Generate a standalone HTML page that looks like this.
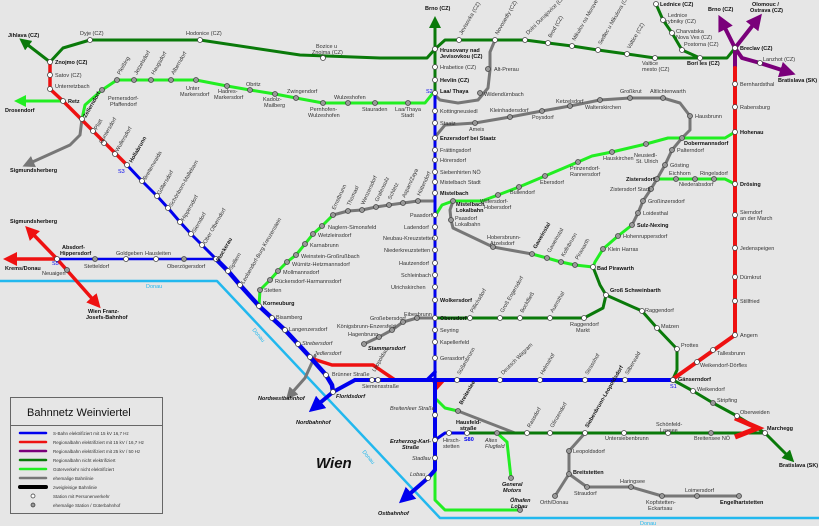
<!DOCTYPE html>
<html><head><meta charset="utf-8"><style>
html,body{margin:0;padding:0;background:#e6e6e6}
svg{display:block}
text{font-family:"Liberation Sans",sans-serif;font-size:5.5px;fill:#333}
.b{font-weight:bold;fill:#111}
.l{fill:none;stroke-linejoin:round;stroke-linecap:round}
</style></head><body>
<svg width="819" height="526" viewBox="0 0 819 526" xmlns="http://www.w3.org/2000/svg">
<defs>
<marker id="ar" markerWidth="4" markerHeight="4" refX="2" refY="2" orient="auto" markerUnits="strokeWidth"><path d="M0,0L4,2L0,4z" fill="context-stroke"/></marker>
</defs>
<rect width="819" height="526" fill="#e6e6e6"/>
<!-- Danube -->
<polyline class="l" points="0,281 217,281 440,518 819,518" stroke="#22b8ee" stroke-width="2.5"/>
<text x="146" y="288" fill="#22b8ee" style="fill:#22b8ee">Donau</text>
<text x="640" y="525" style="fill:#22b8ee">Donau</text>
<text x="252" y="330" style="fill:#22b8ee" transform="rotate(50 252 330)">Donau</text>
<text x="362" y="452" style="fill:#22b8ee" transform="rotate(50 362 452)">Donau</text>

<!-- grey lines -->
<g class="l" stroke="#777" stroke-width="3">
<polyline points="433,93 440,100 458,103 478,100 488,88 490,70 490,52 495,40"/>
<polyline points="435,137 445,125 475,123 510,117 542,111 570,106 600,100 630,98 663,98 680,103 690,116 690,130 682,138 672,150 665,165 657,179 651,189 643,201 638,213 632,225"/>
<polyline points="433,201 418,201 403,203 389,205 376,207 362,210 348,211 333,215"/>
<polyline points="453,201 450,210 451,220 453,228 493,247 532,254"/>
<polyline points="435,318 417,318 403,322 392,330 379,337 364,344"/>
<polyline points="458,411 515,433"/>
<polyline points="585,433 569,451 569,474 555,496"/>
<polyline points="569,474 587,487 631,487 662,496 697,496 739,496"/>
<polyline points="82,119 80,135 70,145 28,164" marker-end="url(#ar)"/>
<polyline points="315,356 305,378 290,395" marker-end="url(#ar)"/>
</g>
<!-- light green -->
<g class="l" stroke="#22ee22" stroke-width="3">
<polyline points="433,93 425,103 408,103 375,103 348,103 323,103 296,98 275,94 250,90 227,86 196,80 171,80 151,80 134,80 117,80 102,90 85,105 82,119"/>
<polyline points="735,184 725,179 714,179 695,179 676,179 657,179"/>
<polyline points="735,132 725,138 682,138 668,138 646,144 612,152 592,156 578,162 545,176 519,187 498,195 482,201 453,201 442,205 437,213"/>
<polyline points="632,225 618,236 603,249 595,262 593,267 575,265 561,262 547,258 532,254"/>
<polyline points="333,215 322,226 313,234 305,244 296,255 287,262 278,271 270,280 260,290 259,306"/>
<polyline points="437,400 445,408 458,411"/>
<polyline points="497,433 507,442 511,478"/>
<polyline points="435,470 435,500 445,510 520,510"/>
<polyline points="63,101 20,101" marker-end="url(#ar)"/>
</g>
<!-- dark green -->
<g class="l" stroke="#0a7a0a" stroke-width="3">
<polyline points="50,62 63,48 90,40 200,40 300,55 380,58 427,58 435,49 445,40 525,40 548,43 572,46 598,50 627,54 655,58 700,58 727,58 735,48"/>
<polyline points="656,4 663,20 672,33 682,50 700,58"/>
<polyline points="50,62 24,42" marker-end="url(#ar)"/>
<polyline points="435,90 435,22" marker-end="url(#ar)"/>
<polyline points="593,267 600,285 606,295 642,311 657,328 677,349 677,370 673,379"/>
<polyline points="606,295 603,308 584,318 550,318 520,318 500,318 470,318 435,318"/>
<polyline points="673,380 693,391 713,403 737,416 765,433 790,458" marker-end="url(#ar)"/>
<polyline points="765,433 711,433 668,433 624,433 585,433 550,433 527,433 467,433"/>
</g>
<!-- purple -->
<g class="l" stroke="#7a007a" stroke-width="4">
<polyline points="735,68 735,48"/>
<polyline points="735,48 722,22" marker-end="url(#ar)"/>
<polyline points="735,48 757,20" marker-end="url(#ar)"/>
<polyline points="735,48 742,58 760,63 788,72" marker-end="url(#ar)"/>
</g>
<!-- red -->
<g class="l" stroke="#ee1111" stroke-width="3.5">
<polyline points="50,62 50,89 63,101 127,165"/>
<polyline points="735,68 735,335 673,379" stroke-width="4"/>
<polyline points="310,358 332,365 373,365 395,380"/>
<polyline points="57,259 30,231" marker-end="url(#ar)"/>
<polyline points="57,259 96,303" marker-end="url(#ar)"/>
<polyline points="57,259 10,259" marker-end="url(#ar)"/>
<polyline points="735,418 758,428 735,437" stroke-width="5" stroke-linecap="butt" stroke-linejoin="miter"/>
</g>
<path d="M430,378L446,380L437,390z" fill="#ee1111"/>
<!-- blue -->
<g class="l" stroke="#0000ee" stroke-width="3.5">
<polyline points="435,93 435,380" stroke-width="3"/>
<polyline points="127,165 142,181 157,196 168,208 180,222 191,234 202,245 216,259" stroke-width="3"/>
<polyline points="57,259 216,259" stroke-width="2.5"/>
<polyline points="216,259 228,271 240,285 259,306 272,318 285,330 298,344 310,357 326,375 332,385 333,392" stroke-width="4.5"/>
<polyline points="355,380 673,380" stroke-width="4"/>
<polyline points="355,380 333,392 315,407" stroke-width="4" marker-end="url(#ar)"/>
<polyline points="435,380 435,470 428,478 405,498" stroke-width="4" marker-end="url(#ar)"/>
<polyline points="435,380 427,380 435,372"/>
<polyline points="435,440 445,433 467,433" stroke-width="3"/>
</g>
<!-- stations -->
<g fill="#fff" stroke="#444" stroke-width="0.8">
<circle cx="435" cy="49" r="2.5"/><circle cx="435" cy="67" r="2.5"/><circle cx="435" cy="80" r="2.5"/><circle cx="435" cy="93" r="2.5"/>
<circle cx="435" cy="111" r="2.5"/><circle cx="435" cy="123" r="2.5"/><circle cx="435" cy="138" r="2.5"/><circle cx="435" cy="150" r="2.5"/><circle cx="435" cy="160" r="2.5"/><circle cx="435" cy="172" r="2.5"/><circle cx="435" cy="182" r="2.5"/><circle cx="435" cy="193" r="2.5"/><circle cx="435" cy="215" r="2.5"/><circle cx="435" cy="227" r="2.5"/><circle cx="435" cy="238" r="2.5"/><circle cx="435" cy="250" r="2.5"/><circle cx="435" cy="263" r="2.5"/><circle cx="435" cy="275" r="2.5"/><circle cx="435" cy="287" r="2.5"/><circle cx="435" cy="300" r="2.5"/><circle cx="435" cy="318" r="2.5"/><circle cx="435" cy="330" r="2.5"/><circle cx="435" cy="342" r="2.5"/><circle cx="435" cy="358" r="2.5"/>
<circle cx="435" cy="415" r="2.5"/><circle cx="435" cy="440" r="2.5"/><circle cx="435" cy="458" r="2.5"/><circle cx="428" cy="478" r="2.5"/>
<circle cx="372" cy="380" r="2.5"/><circle cx="378" cy="380" r="0"/><circle cx="457" cy="380" r="2.5"/><circle cx="500" cy="380" r="2.5"/><circle cx="540" cy="380" r="2.5"/><circle cx="585" cy="380" r="2.5"/><circle cx="625" cy="380" r="2.5"/><circle cx="673" cy="380" r="2.5"/><circle cx="378" cy="380" r="2.5"/><circle cx="333" cy="392" r="2.5"/><circle cx="326" cy="375" r="2.5"/>
<circle cx="735" cy="48" r="2.5"/><circle cx="735" cy="84" r="2.5"/><circle cx="735" cy="107" r="2.5"/><circle cx="735" cy="132" r="2.5"/><circle cx="735" cy="184" r="2.5"/><circle cx="735" cy="215" r="2.5"/><circle cx="735" cy="248" r="2.5"/><circle cx="735" cy="277" r="2.5"/><circle cx="735" cy="301" r="2.5"/><circle cx="735" cy="335" r="2.5"/><circle cx="713" cy="350" r="2.5"/><circle cx="697" cy="362" r="2.5"/><circle cx="760" cy="63" r="2.5"/>
<circle cx="700" cy="58" r="2.5"/><circle cx="655" cy="58" r="2.5"/><circle cx="627" cy="54" r="2.5"/><circle cx="598" cy="50" r="2.5"/><circle cx="572" cy="46" r="2.5"/><circle cx="548" cy="43" r="2.5"/><circle cx="525" cy="40" r="2.5"/><circle cx="495" cy="40" r="2.5"/><circle cx="459" cy="40" r="2.5"/><circle cx="323" cy="58" r="2.5"/><circle cx="200" cy="40" r="2.5"/><circle cx="90" cy="40" r="2.5"/><circle cx="656" cy="4" r="2.5"/><circle cx="663" cy="20" r="2.5"/><circle cx="672" cy="33" r="2.5"/><circle cx="682" cy="50" r="2.5"/>
<circle cx="50" cy="62" r="2.5"/><circle cx="50" cy="75" r="2.5"/><circle cx="50" cy="89" r="2.5"/><circle cx="63" cy="101" r="2.5"/><circle cx="82" cy="119" r="2.5"/><circle cx="93" cy="131" r="2.5"/><circle cx="104" cy="143" r="2.5"/><circle cx="115" cy="154" r="2.5"/><circle cx="127" cy="165" r="2.5"/><circle cx="142" cy="181" r="2.5"/><circle cx="157" cy="196" r="2.5"/><circle cx="168" cy="208" r="2.5"/><circle cx="180" cy="222" r="2.5"/><circle cx="191" cy="234" r="2.5"/><circle cx="202" cy="245" r="2.5"/><circle cx="216" cy="259" r="2.5"/><circle cx="228" cy="271" r="2.5"/><circle cx="240" cy="285" r="2.5"/><circle cx="259" cy="306" r="2.5"/><circle cx="272" cy="318" r="2.5"/><circle cx="285" cy="330" r="2.5"/><circle cx="298" cy="344" r="2.5"/><circle cx="310" cy="357" r="2.5"/>
<circle cx="57" cy="259" r="2.5"/><circle cx="126" cy="259" r="2.5"/><circle cx="156" cy="259" r="2.5"/>
<circle cx="673" cy="380" r="2.5"/><circle cx="693" cy="391" r="2.5"/><circle cx="737" cy="416" r="2.5"/><circle cx="765" cy="433" r="2.5"/><circle cx="668" cy="433" r="2.5"/><circle cx="624" cy="433" r="2.5"/><circle cx="585" cy="433" r="2.5"/><circle cx="550" cy="433" r="2.5"/><circle cx="527" cy="433" r="2.5"/><circle cx="449" cy="433" r="2.5"/><circle cx="467" cy="433" r="2.5"/>
<circle cx="593" cy="267" r="2.5"/><circle cx="606" cy="295" r="2.5"/><circle cx="642" cy="311" r="2.5"/><circle cx="657" cy="328" r="2.5"/><circle cx="677" cy="349" r="2.5"/><circle cx="584" cy="318" r="2.5"/><circle cx="550" cy="318" r="2.5"/><circle cx="520" cy="318" r="2.5"/><circle cx="500" cy="318" r="2.5"/><circle cx="470" cy="318" r="2.5"/>
</g>
<g fill="#999" stroke="#444" stroke-width="0.8">
<circle cx="480" cy="93" r="2.5"/><circle cx="488" cy="69" r="2.5"/><circle cx="475" cy="123" r="2.5"/><circle cx="510" cy="117" r="2.5"/><circle cx="542" cy="111" r="2.5"/><circle cx="570" cy="106" r="2.5"/><circle cx="600" cy="100" r="2.5"/><circle cx="630" cy="98" r="2.5"/><circle cx="663" cy="98" r="2.5"/><circle cx="690" cy="116" r="2.5"/><circle cx="682" cy="138" r="2.5"/><circle cx="672" cy="150" r="2.5"/><circle cx="665" cy="165" r="2.5"/><circle cx="657" cy="179" r="2.5"/><circle cx="651" cy="189" r="2.5"/><circle cx="643" cy="201" r="2.5"/><circle cx="638" cy="213" r="2.5"/><circle cx="632" cy="225" r="2.5"/>
<circle cx="676" cy="179" r="2.5"/><circle cx="695" cy="179" r="2.5"/><circle cx="714" cy="179" r="2.5"/><circle cx="646" cy="144" r="2.5"/><circle cx="612" cy="152" r="2.5"/><circle cx="578" cy="162" r="2.5"/><circle cx="545" cy="176" r="2.5"/><circle cx="519" cy="187" r="2.5"/><circle cx="498" cy="195" r="2.5"/><circle cx="453" cy="201" r="2.5"/><circle cx="451" cy="220" r="2.5"/><circle cx="493" cy="247" r="2.5"/><circle cx="532" cy="254" r="2.5"/><circle cx="547" cy="258" r="2.5"/><circle cx="561" cy="262" r="2.5"/><circle cx="575" cy="265" r="2.5"/><circle cx="603" cy="249" r="2.5"/><circle cx="618" cy="236" r="2.5"/>
<circle cx="418" cy="201" r="2.5"/><circle cx="403" cy="203" r="2.5"/><circle cx="389" cy="205" r="2.5"/><circle cx="376" cy="207" r="2.5"/><circle cx="362" cy="210" r="2.5"/><circle cx="348" cy="211" r="2.5"/><circle cx="333" cy="215" r="2.5"/><circle cx="322" cy="226" r="2.5"/><circle cx="313" cy="234" r="2.5"/><circle cx="305" cy="244" r="2.5"/><circle cx="296" cy="255" r="2.5"/><circle cx="287" cy="262" r="2.5"/><circle cx="278" cy="271" r="2.5"/><circle cx="270" cy="280" r="2.5"/><circle cx="260" cy="290" r="2.5"/>
<circle cx="417" cy="318" r="2.5"/><circle cx="403" cy="322" r="2.5"/><circle cx="392" cy="330" r="2.5"/><circle cx="379" cy="337" r="2.5"/><circle cx="364" cy="344" r="2.5"/>
<circle cx="408" cy="103" r="2.5"/><circle cx="375" cy="103" r="2.5"/><circle cx="348" cy="103" r="2.5"/><circle cx="323" cy="103" r="2.5"/><circle cx="296" cy="98" r="2.5"/><circle cx="275" cy="94" r="2.5"/><circle cx="250" cy="90" r="2.5"/><circle cx="227" cy="86" r="2.5"/><circle cx="196" cy="80" r="2.5"/><circle cx="171" cy="80" r="2.5"/><circle cx="151" cy="80" r="2.5"/><circle cx="134" cy="80" r="2.5"/><circle cx="117" cy="80" r="2.5"/><circle cx="102" cy="90" r="2.5"/>
<circle cx="95" cy="259" r="2.5"/><circle cx="184" cy="259" r="2.5"/><circle cx="67" cy="270" r="2.5"/>
<circle cx="458" cy="411" r="2.5"/><circle cx="497" cy="433" r="2.5"/><circle cx="511" cy="478" r="2.5"/><circle cx="520" cy="510" r="2.5"/><circle cx="713" cy="403" r="2.5"/><circle cx="711" cy="433" r="2.5"/>
<circle cx="569" cy="451" r="2.5"/><circle cx="569" cy="474" r="2.5"/><circle cx="555" cy="496" r="2.5"/><circle cx="587" cy="487" r="2.5"/><circle cx="631" cy="487" r="2.5"/><circle cx="662" cy="496" r="2.5"/><circle cx="697" cy="496" r="2.5"/><circle cx="739" cy="496" r="2.5"/>
</g>
<!-- labels -->
<text x="425" y="10" class="b">Brno (CZ)</text>
<text x="440" y="52" class="b">Hrusovany nad</text><text x="440" y="58" class="b">Jevisovkou (CZ)</text>
<text x="440" y="69">Hrabetice (CZ)</text><text x="440" y="82" class="b">Hevlín (CZ)</text>
<text x="440" y="93" class="b">Laa/ Thaya</text><text x="426" y="93" style="fill:#00e">S2</text>
<text x="440" y="113">Kottingneusiedl</text><text x="440" y="125">Staatz</text><text x="440" y="140" class="b">Enzersdorf bei Staatz</text>
<text x="440" y="152">Frättingsdorf</text><text x="440" y="162">Hörersdorf</text><text x="440" y="174">Siebenhirten NÖ</text><text x="440" y="184">Mistelbach Stadt</text><text x="440" y="195" class="b">Mistelbach</text>
<text x="456" y="206" class="b">Mistelbach</text><text x="456" y="212" class="b">Lokalbahn</text>
<text x="410" y="217">Paasdorf</text><text x="404" y="229">Ladendorf</text><text x="383" y="240">Neubau-Kreuzstetten</text><text x="384" y="252">Niederkreuzstetten</text><text x="399" y="265">Hautzendorf</text><text x="401" y="277">Schleinbach</text><text x="391" y="289">Ulrichskirchen</text>
<text x="440" y="302" class="b">Wolkersdorf</text><text x="440" y="320" class="b">Obersdorf</text><text x="440" y="332">Seyring</text><text x="440" y="344">Kapellerfeld</text><text x="440" y="360">Gerasdorf</text>
<text x="404" y="316">Eibesbrunn</text><text x="370" y="320">Großebersdorf</text><text x="337" y="328">Königsbrunn-Enzersfeld</text><text x="348" y="336">Hagenbrunn</text><text x="368" y="350" class="b" style="font-style:italic">Stammersdorf</text>
<text x="484" y="96">Wildendürnbach</text><text x="494" y="71">Alt-Prerau</text>
<text x="469" y="131">Ameis</text><text x="490" y="112">Kleinhadersdorf</text><text x="532" y="119">Poysdorf</text><text x="556" y="103">Ketzelsdorf</text><text x="585" y="109">Walterskirchen</text><text x="620" y="93">Großkrut</text><text x="650" y="93">Altlichtenwarth</text><text x="695" y="118">Hausbrunn</text>
<text x="684" y="145" class="b">Dobermannsdorf</text><text x="677" y="152">Palterndorf</text><text x="670" y="167">Gösting</text><text x="626" y="181" class="b">Zistersdorf</text><text x="610" y="191">Zistersdorf Stadt</text><text x="648" y="203">Großinzersdorf</text><text x="643" y="215">Loidesthal</text><text x="637" y="227" class="b">Sulz-Nexing</text><text x="623" y="238">Hohenruppersdorf</text><text x="608" y="251">Klein Harras</text>
<text x="669" y="175">Eichhorn</text><text x="679" y="186">Niederabsdorf</text><text x="700" y="175">Ringelsdorf</text>
<text x="634" y="157">Neusiedl-</text><text x="636" y="163">St. Ulrich</text><text x="603" y="160">Hauskirchen</text><text x="570" y="170">Prinzendorf-</text><text x="570" y="176">Rannersdorf</text><text x="540" y="184">Ebersdorf</text><text x="510" y="194">Bullendorf</text><text x="480" y="203">Wilfersdorf-</text><text x="484" y="209">Hobersdorf</text>
<text x="455" y="220">Paasdorf</text><text x="455" y="226">Lokalbahn</text><text x="487" y="239">Hobersbrunn-</text><text x="490" y="245">Atzelsdorf</text>
<text x="597" y="270" class="b">Bad Pirawarth</text><text x="610" y="292" class="b">Groß Schweinbarth</text><text x="645" y="312">Raggendorf</text><text x="661" y="328">Matzen</text><text x="681" y="347">Prottes</text>
<text x="570" y="326">Raggendorf</text><text x="576" y="332">Markt</text>
<text x="740" y="50" class="b">Breclav (CZ)</text><text x="740" y="86">Bernhardsthal</text><text x="740" y="109">Rabensburg</text><text x="740" y="134" class="b">Hohenau</text><text x="740" y="186" class="b">Drösing</text><text x="740" y="214">Sierndorf</text><text x="740" y="220">an der March</text><text x="740" y="250">Jedenspeigen</text><text x="740" y="279">Dürnkrut</text><text x="740" y="303">Stillfried</text><text x="740" y="337">Angern</text>
<text x="717" y="355">Tallesbrunn</text><text x="700" y="367">Weikendorf-Dörfles</text>
<text x="678" y="381" class="b">Gänserndorf</text><text x="670" y="388" style="fill:#00e">S1</text>
<text x="697" y="391">Weikendorf</text><text x="717" y="402">Stripfing</text><text x="740" y="414">Oberweiden</text><text x="767" y="430" class="b">Marchegg</text><text x="779" y="467" class="b">Bratislava (SK)</text>
<text x="778" y="82" class="b">Bratislava (SK)</text><text x="763" y="61">Lanzhot (CZ)</text><text x="708" y="11" class="b">Brno (CZ)</text><text x="752" y="6" class="b">Olomouc /</text><text x="750" y="12" class="b">Ostrava (CZ)</text>
<text x="660" y="6" class="b">Lednice (CZ)</text><text x="668" y="17">Lednice</text><text x="666" y="23">rybniky (CZ)</text><text x="676" y="33">Charvatska</text><text x="676" y="39">Nova Ves (CZ)</text><text x="684" y="46">Postorna (CZ)</text><text x="687" y="65" class="b">Bori les (CZ)</text><text x="642" y="65">Valtice</text><text x="642" y="71">mesto (CZ)</text>
<text x="316" y="48">Bozice u</text><text x="312" y="54">Znojma (CZ)</text><text x="186" y="35">Hodonice (CZ)</text><text x="80" y="35">Dyje (CZ)</text>
<text x="8" y="37" class="b">Jihlava (CZ)</text><text x="55" y="64" class="b">Znojmo (CZ)</text><text x="55" y="77">Satov (CZ)</text><text x="55" y="88">Unterretzbach</text><text x="68" y="103" class="b">Retz</text><text x="5" y="112" class="b">Drosendorf</text><text x="10" y="172" class="b">Sigmundsherberg</text>
<text x="108" y="100">Pernersdorf-</text><text x="110" y="106">Pfaffendorf</text><text x="186" y="90">Unter</text><text x="180" y="96">Markersdorf</text><text x="218" y="93">Hadres-</text><text x="214" y="99">Markersdorf</text><text x="246" y="86">Obritz</text><text x="263" y="101">Kadolz-</text><text x="264" y="107">Mailberg</text><text x="287" y="93">Zwingendorf</text><text x="310" y="111">Pernhofen-</text><text x="308" y="117">Wulzeshofen</text><text x="334" y="99">Wulzeshofen</text><text x="362" y="111">Stauraden</text><text x="395" y="111">Laa/Thaya</text><text x="401" y="117">Stadt</text>
<text x="102" y="144" transform="rotate(-60 102 144)">Guntersdorf</text><text x="132" y="163" class="b" transform="rotate(-60 132 163)">Hollabrunn</text><text x="118" y="173" style="fill:#00e">S3</text>
<text x="10" y="223" class="b">Sigmundsherberg</text><text x="62" y="249" class="b">Absdorf-</text><text x="60" y="255" class="b">Hippersdorf</text><text x="52" y="265" style="fill:#00e">S5</text><text x="42" y="275">Neuaigen</text><text x="5" y="270" class="b">Krems/Donau</text><text x="88" y="313" class="b">Wien Franz-</text><text x="86" y="319" class="b">Josefs-Bahnhof</text>
<text x="84" y="268">Stetteldorf</text><text x="116" y="255">Goldgeben</text><text x="145" y="255">Hausleiten</text><text x="167" y="268">Oberzögersdorf</text>
<text x="219" y="262" class="b" transform="rotate(-60 219 262)">Stockerau</text>
<text x="263" y="305" class="b">Korneuburg</text><text x="264" y="292">Stetten</text><text x="276" y="319">Bisamberg</text><text x="289" y="331">Langenzersdorf</text><text x="302" y="345" style="font-style:italic">Strebersdorf</text><text x="314" y="355" style="font-style:italic">Jedlersdorf</text>
<text x="332" y="376">Brünner Straße</text><text x="336" y="398" class="b" style="font-style:italic">Floridsdorf</text><text x="296" y="424" class="b" style="font-style:italic">Nordbahnhof</text><text x="258" y="400" class="b" style="font-style:italic">Nordwestbahnhof</text>
<text x="362" y="388">Siemensstraße</text>
<text x="328" y="229">Naglern-Simonsfeld</text><text x="318" y="237">Wetzleinsdorf</text><text x="310" y="247">Karnabrunn</text><text x="301" y="258">Weinstein-Großrußbach</text><text x="292" y="266">Würnitz-Hetzmannsdorf</text><text x="283" y="274">Mollmannsdorf</text><text x="275" y="283">Rückersdorf-Harmannsdorf</text>
<text x="390" y="410" style="font-style:italic">Breitenleer Straße</text><text x="390" y="443" class="b" style="font-style:italic">Erzherzog-Karl-</text><text x="402" y="449" class="b" style="font-style:italic">Straße</text><text x="412" y="460" style="font-style:italic">Stadlau</text><text x="410" y="476" style="font-style:italic">Lobau</text><text x="378" y="515" class="b" style="font-style:italic">Ostbahnhof</text>
<text x="456" y="424" class="b">Hausfeld-</text><text x="460" y="430" class="b">straße</text><text x="464" y="441" style="fill:#00e;font-weight:bold">S80</text><text x="443" y="442">Hirsch-</text><text x="443" y="448">stetten</text><text x="485" y="442" style="font-style:italic">Altes</text><text x="485" y="448" style="font-style:italic">Flugfeld</text>
<text x="502" y="486" class="b" style="font-style:italic">General</text><text x="503" y="492" class="b" style="font-style:italic">Motors</text><text x="510" y="502" class="b" style="font-style:italic">Ölhafen</text><text x="511" y="508" class="b" style="font-style:italic">Lobau</text>
<text x="316" y="468" style="font-size:15px;font-weight:bold;font-style:italic;fill:#111">Wien</text>
<text x="605" y="440">Untersiebenbrunn</text><text x="656" y="426">Schönfeld-</text><text x="660" y="432">Lassee</text><text x="694" y="440">Breitensee NÖ</text>
<text x="573" y="453">Leopoldsdorf</text><text x="573" y="474" class="b">Breitstetten</text><text x="540" y="504">Orth/Donau</text><text x="574" y="495">Straudorf</text><text x="620" y="483">Haringsee</text><text x="646" y="504">Kopfstetten-</text><text x="648" y="510">Eckartsau</text><text x="685" y="492">Loimersdorf</text><text x="720" y="504" class="b">Engelhartstetten</text>
<g>
<text x="375" y="372" transform="rotate(-60 375 372)">Leopoldau</text><text x="460" y="375" transform="rotate(-60 460 375)">Süßenbrunn</text><text x="503" y="375" transform="rotate(-45 503 375)">Deutsch Wagram</text><text x="543" y="375" transform="rotate(-60 543 375)">Helmahof</text><text x="588" y="375" transform="rotate(-60 588 375)">Strasshof</text><text x="628" y="375" transform="rotate(-60 628 375)">Silberwald</text>
<text x="473" y="313" transform="rotate(-60 473 313)">Pillichsdorf</text><text x="503" y="313" transform="rotate(-60 503 313)">Groß Engersdorf</text><text x="523" y="313" transform="rotate(-60 523 313)">Bockfließ</text><text x="553" y="313" transform="rotate(-60 553 313)">Auersthal</text>
<text x="462" y="405" class="b" transform="rotate(-60 462 405)">Breitenlee</text><text x="530" y="428" transform="rotate(-60 530 428)">Raasdorf</text><text x="553" y="428" transform="rotate(-60 553 428)">Glinzendorf</text><text x="588" y="428" class="b" transform="rotate(-60 588 428)">Siebenbrunn-Leopoldsdorf</text>
<text x="536" y="249" class="b" transform="rotate(-60 536 249)">Gaweinstal</text><text x="550" y="253" transform="rotate(-60 550 253)">Gaweinstal</text><text x="564" y="257" transform="rotate(-60 564 257)">Kollnbrunn</text><text x="578" y="260" transform="rotate(-60 578 260)">Pirawarth</text>
<text x="335" y="210" transform="rotate(-65 335 210)">Ernstbrunn</text><text x="350" y="206" transform="rotate(-65 350 206)">Thomasl</text><text x="364" y="205" transform="rotate(-65 364 205)">Wenzersdorf</text><text x="378" y="202" transform="rotate(-65 378 202)">Grafensulz</text><text x="391" y="200" transform="rotate(-65 391 200)">Schletz</text><text x="405" y="198" transform="rotate(-65 405 198)">Asparn/Zaya</text><text x="420" y="196" transform="rotate(-65 420 196)">Hüttendorf</text>
<text x="462" y="35" transform="rotate(-60 462 35)">Jevisovka (CZ)</text><text x="498" y="35" transform="rotate(-60 498 35)">Novosedly (CZ)</text><text x="528" y="35" transform="rotate(-45 528 35)">Dolni Dunajovice (CZ)</text><text x="551" y="38" transform="rotate(-60 551 38)">Brod (CZ)</text><text x="575" y="41" transform="rotate(-60 575 41)">Mikulov na Morave (CZ)</text><text x="601" y="45" transform="rotate(-60 601 45)">Sedlec u Mikulova (CZ)</text><text x="630" y="49" transform="rotate(-60 630 49)">Valtice (CZ)</text>
<text x="120" y="75" transform="rotate(-60 120 75)">Pleißing</text><text x="137" y="75" transform="rotate(-60 137 75)">Jetzelsdorf</text><text x="154" y="75" transform="rotate(-60 154 75)">Haugsdorf</text><text x="174" y="75" transform="rotate(-60 174 75)">Alberndorf</text>
<text x="86" y="118" class="b" transform="rotate(-60 86 118)">Zellerndorf</text><text x="97" y="130" transform="rotate(-60 97 130)">Platt</text><text x="118" y="152" transform="rotate(-60 118 152)">Wullersdorf</text>
<text x="146" y="180" transform="rotate(-60 146 180)">Breitenwaida</text><text x="160" y="195" transform="rotate(-60 160 195)">Göllersdorf</text><text x="172" y="207" transform="rotate(-60 172 207)">Schönborn-Mallebarn</text><text x="184" y="221" transform="rotate(-60 184 221)">Hippersdorf</text><text x="195" y="233" transform="rotate(-60 195 233)">Sierndorf</text><text x="206" y="244" transform="rotate(-60 206 244)">Ober Olberndorf</text>
<text x="232" y="270" transform="rotate(-60 232 270)">Spillern</text><text x="244" y="284" transform="rotate(-60 244 284)">Leobendorf-Burg Kreuzenstein</text>
</g>
<!-- legend -->
<rect x="10.5" y="397.5" width="152" height="116" fill="#e6e6e6" stroke="#666"/>
<line x1="10.5" y1="425.5" x2="162.5" y2="425.5" stroke="#666"/>
<text x="27" y="416" style="font-size:11px;fill:#111">Bahnnetz Weinviertel</text>
<g stroke-width="2.5" stroke-linecap="round">
<line x1="20" y1="433" x2="46" y2="433" stroke="#0000ee"/><line x1="20" y1="442" x2="46" y2="442" stroke="#ee1111"/><line x1="20" y1="451" x2="46" y2="451" stroke="#7a007a"/><line x1="20" y1="460" x2="46" y2="460" stroke="#0a7a0a"/><line x1="20" y1="469" x2="46" y2="469" stroke="#22ee22"/><line x1="20" y1="478" x2="46" y2="478" stroke="#777"/><line x1="20" y1="487" x2="46" y2="487" stroke="#000" stroke-width="4"/>
</g>
<circle cx="33" cy="496" r="2" fill="#fff" stroke="#333" stroke-width="0.7"/><circle cx="33" cy="505" r="2" fill="#999" stroke="#333" stroke-width="0.7"/>
<g style="font-size:4.5px"><text x="53" y="435" style="font-size:4.5px">S-Bahn elektrifiziert mit 15 kV 16,7 Hz</text><text x="53" y="444" style="font-size:4.5px">Regionalbahn elektrifiziert mit 15 kV / 16,7 Hz</text><text x="53" y="453" style="font-size:4.5px">Regionalbahn elektrifiziert mit 25 kV / 50 Hz</text><text x="53" y="462" style="font-size:4.5px">Regionalbahn nicht elektrifiziert</text><text x="53" y="471" style="font-size:4.5px">Güterverkehr nicht elektrifiziert</text><text x="53" y="480" style="font-size:4.5px">ehemalige Bahnlinie</text><text x="53" y="489" style="font-size:4.5px">zweigleisige Bahnlinie</text><text x="53" y="498" style="font-size:4.5px">Station mit Personenverkehr</text><text x="53" y="507" style="font-size:4.5px">ehemalige Station / Güterbahnhof</text></g>
</svg>
</body></html>
